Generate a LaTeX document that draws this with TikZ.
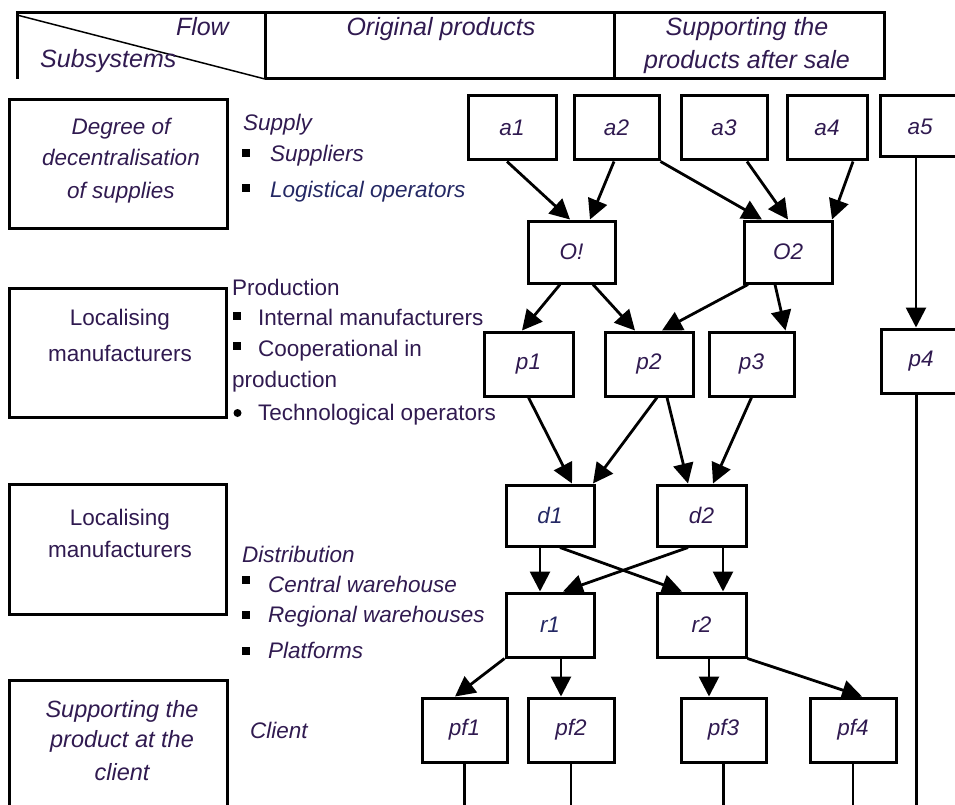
\documentclass[tikz,border=0pt]{standalone}
\usepackage{fontspec}
\setmainfont{Liberation Sans}
\usetikzlibrary{arrows.meta}
\definecolor{ink}{RGB}{48,26,80}
\definecolor{navy}{RGB}{36,40,100}
\newcommand\labelsize{\fontsize{22.5}{28}\selectfont}
\newcommand\headsize{\fontsize{25}{30}\selectfont}
\newcommand\boxsize{\fontsize{23.5}{29}\selectfont}
\begin{document}
\begin{tikzpicture}[x=1pt,y=-1pt,
  box/.style={draw=black,line width=3pt,inner sep=0pt,font=\labelsize\itshape,text=ink},
  wh/.style 2 args={minimum width=#1pt,minimum height=#2pt},
  txt/.style={inner sep=0pt,font=\labelsize\itshape,text=ink},
  head/.style={font=\headsize\itshape},
  sub/.style={font=\boxsize\itshape},
  up/.style={font=\labelsize\upshape},
  arr/.style={line width=2.8pt,-{Triangle[length=20pt,width=20pt]}},
  drop/.style={line width=2.5pt},
  frame/.style={line width=3pt},
  bul/.style={fill=black}]
\useasboundingbox (0,0) rectangle (955,805);

% ---------- header table ----------
\draw[frame] (17,79) -- (17,13) -- (884,13) -- (884,79) -- (265,79);
\draw[frame] (265,13) -- (265,79);
\draw[frame] (614,13) -- (614,79);
\draw[line width=1.5pt] (17,15) -- (265,79);
\node[txt,head,anchor=base east] (hflow) at (229,36) {Flow};
\node[txt,head,anchor=base west] (hsub) at (40,68) {Subsystems};
\node[txt,head,anchor=base] (horig) at (441,36) {Original products};
\node[txt,head,anchor=base] (hsupa) at (747,36) {Supporting the};
\node[txt,head,anchor=base] (hsupb) at (747,69) {products after sale};

% ---------- subsystem boxes ----------
\draw[frame] (9,100) rectangle (227,228);
\draw[frame] (9,288) rectangle (226,417);
\draw[frame] (9,484) rectangle (226,614);
\draw[frame] (9,810) -- (9,680) -- (227,680) -- (227,810);

\node[txt,anchor=base] (s1a) at (121,135) {Degree of};
\node[txt,anchor=base] (s1b) at (121,166) {decentralisation};
\node[txt,anchor=base] (s1c) at (121,198) {of supplies};
\node[txt,up,anchor=base] (s2a) at (120,325) {Localising};
\node[txt,up,anchor=base] (s2b) at (120,361) {manufacturers};
\node[txt,up,anchor=base] (s3a) at (120,525) {Localising};
\node[txt,up,anchor=base] (s3b) at (120,557) {manufacturers};
\node[txt,sub,anchor=base] (s4a) at (122,717) {Supporting the};
\node[txt,sub,anchor=base] (s4b) at (122,747) {product at the};
\node[txt,sub,anchor=base] (s4c) at (122,780) {client};

% ---------- actor lists ----------
\node[txt,anchor=base west] (lsup) at (243,131) {Supply};
\fill[bul] (242,149) rectangle (250,157);
\node[txt,anchor=base west] (lsupa) at (270,162) {Suppliers};
\fill[bul] (242,184) rectangle (250,192);
\node[txt,anchor=base west,text=navy] (lsupb) at (270,197) {Logistical operators};

\node[txt,up,anchor=base west] (lpro) at (232,295) {Production};
\fill[bul] (233,312) rectangle (241,320);
\node[txt,up,anchor=base west] (lproa) at (258,325) {Internal manufacturers};
\fill[bul] (233,342) rectangle (241,350);
\node[txt,up,anchor=base west] (lprob) at (258,356) {Cooperational in};
\node[txt,up,anchor=base west] (lproc) at (232,387) {production};
\fill[bul] (237.5,413) circle (4);
\node[txt,up,anchor=base west] (lprod) at (258,420) {Technological operators};

\node[txt,anchor=base west] (ldis) at (242,562) {Distribution};
\fill[bul] (242,576) rectangle (250,584);
\node[txt,anchor=base west] (ldisa) at (268,592) {Central warehouse};
\fill[bul] (242,611) rectangle (250,619);
\node[txt,anchor=base west] (ldisb) at (268,622) {Regional warehouses};
\fill[bul] (242,647) rectangle (250,655);
\node[txt,anchor=base west] (ldisc) at (268,658) {Platforms};

\node[txt,anchor=base west] (lcli) at (250,738) {Client};

% ---------- flow nodes ----------
\node[box,wh={88}{64}] (a1) at (512,128) {a1};
\node[box,wh={85}{64}] (a2) at (616.5,128) {a2};
\node[box,wh={86}{64}] (a3) at (724,128) {a3};
\node[box,wh={80}{64}] (a4) at (827,128) {a4};
\node[box,wh={80}{61}] (a5) at (920,126.5) {a5};

\node[box,wh={87}{62}] (O1) at (571.5,252) {O!};
\node[box,wh={88}{62}] (O2) at (788,252) {O2};

\node[box,wh={89}{64}] (p1) at (528.5,364) {p1};
\node[box,wh={88}{64}] (p2) at (649,364) {p2};
\node[box,wh={85}{64}] (p3) at (751.5,364) {p3};
\node[box,wh={80}{64}] (p4) at (921,361) {p4};

\node[box,wh={88}{61},text=navy] (d1) at (550,515.5) {d1};
\node[box,wh={89}{61}] (d2) at (701.5,515.5) {d2};
\node[box,wh={88}{64},text=navy] (r1) at (550,625) {r1};
\node[box,wh={89}{64}] (r2) at (701.5,625) {r2};

\node[box,wh={85}{64}] (pf1) at (464.5,730) {pf1};
\node[box,wh={86}{64}] (pf2) at (571,730) {pf2};
\node[box,wh={85}{64}] (pf3) at (723.5,730) {pf3};
\node[box,wh={86}{64}] (pf4) at (853,730) {pf4};

% free ends of the lines leaving the picture at the bottom
\coordinate (e1) at (464.5,808);
\coordinate (e2) at (571,808);
\coordinate (e3) at (723.5,808);
\coordinate (e4) at (853,808);
\coordinate (e5) at (916,808);

% ---------- connectors ----------
\draw[arr] ([xshift=-5pt]a1.south) -- ([xshift=-1.5pt]O1.north);
\draw[arr] ([xshift=-2.5pt]a2.south) -- ([xshift=18.5pt]O1.north);
\draw[arr] (a2.south east) -- ([xshift=-26pt]O2.north);
\draw[arr] ([xshift=23pt]a3.south) -- (O2.north);
\draw[arr] ([xshift=26pt]a4.south) -- ([xshift=44pt]O2.north);
\draw[arr] ([xshift=-4pt]a5.south) -- ([xshift=-5pt]p4.north);

\draw[arr] ([xshift=-11.5pt]O1.south) -- ([xshift=-6.5pt]p1.north);
\draw[arr] ([xshift=21.5pt]O1.south) -- ([xshift=-14pt]p2.north);
\draw[arr] ([xshift=-40pt]O2.south) -- ([xshift=13pt]p2.north);
\draw[arr] ([xshift=-13pt]O2.south) -- ([xshift=34pt]p3.north);

\draw[arr] (p1.south) -- ([xshift=22pt]d1.north);
\draw[arr] ([xshift=8pt]p2.south) -- ([xshift=43pt]d1.north);
\draw[arr] ([xshift=18pt]p2.south) -- ([xshift=-13.5pt]d2.north);
\draw[arr] (p3.south) -- ([xshift=11.5pt]d2.north);

\draw[arr] ([xshift=-10pt]d1.south) -- ([xshift=-10pt]r1.north);
\draw[arr] ([xshift=21.5pt]d2.south) -- ([xshift=21.5pt]r2.north);
\draw[arr] ([xshift=10pt]d1.south) -- ([xshift=-19.5pt]r2.north);
\draw[arr] ([xshift=-13.5pt]d2.south) -- ([xshift=13pt]r1.north);

\draw[arr] (r1.south west) -- ([xshift=-9.5pt]pf1.north);
\draw[arr] ([xshift=11pt]r1.south) -- ([xshift=-10pt]pf2.north);
\draw[arr] ([xshift=7.5pt]r2.south) -- ([xshift=-14.5pt]pf3.north);
\draw[arr] (r2.south east) -- ([xshift=9pt]pf4.north);

\draw[drop] (pf1.south) -- (e1);
\draw[drop] (pf2.south) -- (e2);
\draw[drop] (pf3.south) -- (e3);
\draw[drop] (pf4.south) -- (e4);
\draw[line width=3pt] ([xshift=-5pt]p4.south) -- (e5);
\end{tikzpicture}
\end{document}
